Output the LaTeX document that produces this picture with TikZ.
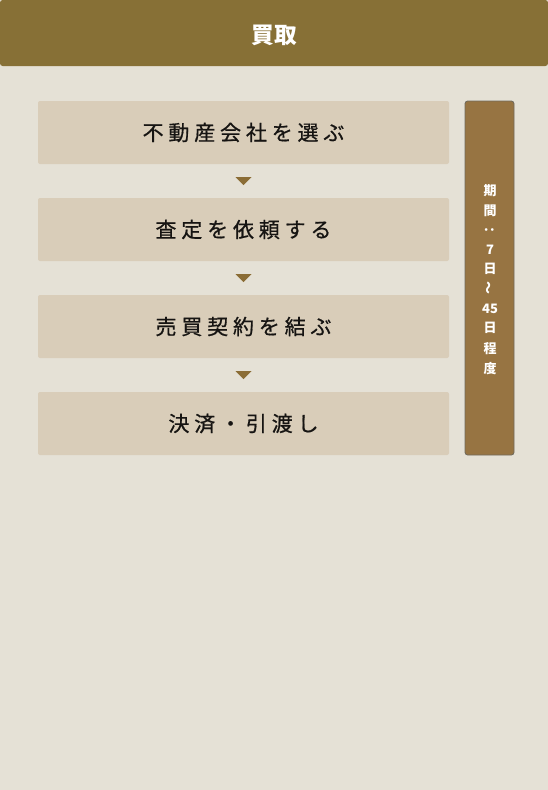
\documentclass[tikz,border=0pt]{standalone}
\usepackage{fontspec}
\newfontfamily\jpfont{Noto Sans CJK JP}
\newfontfamily\jpspaced[LetterSpace=23,FakeBold=0.7]{Noto Sans CJK JP}
\usetikzlibrary{calc}

\definecolor{bgpaper}{RGB}{229,225,214}
\definecolor{headbar}{RGB}{135,112,54}
\definecolor{stepfill}{RGB}{217,205,185}
\definecolor{tricol}{RGB}{139,109,54}
\definecolor{sidefill}{RGB}{151,116,66}
\definecolor{sideedge}{RGB}{112,106,94}
\definecolor{inktext}{RGB}{22,20,18}

\newcommand\steplabel[1]{\lower1.5pt\hbox{#1}}

\tikzset{
  stepbox/.style={fill=stepfill, rounded corners=1.5pt, inner sep=0pt,
    minimum width=308.25pt, minimum height=47.25pt, text=inktext,
    font=\jpspaced\fontsize{15.75pt}{18pt}\selectfont},
  stepmark/.style={fill=tricol},
  periodbar/.style={fill=sidefill, draw=sideedge, line width=0.6pt, rounded corners=2pt,
    inner sep=0pt, minimum width=36.75pt, minimum height=265.5pt},
  periodchar/.style={text=white, inner sep=0pt, font=\jpfont\bfseries\fontsize{9.75pt}{11pt}\selectfont}
}

\begin{document}
\begin{tikzpicture}[x=0.75pt,y=0.75pt,yscale=-1,xscale=1]
        \useasboundingbox (0,0) rectangle (548,790);
        %Shape: Rectangle [background]
        \fill[bgpaper] (0,0) rectangle (548,790);
        
        %Shape: Rectangle [header]
        \fill[headbar, rounded corners=2pt] (0,0) rectangle (548,66);
        % Text Node
        \node[text=white, font=\jpfont\bfseries\fontsize{17pt}{19pt}\selectfont] (title) at (274,35.5) {買取};
        
        %Flowchart: Process
        \node[stepbox] (s1) at (243.5,132.5) {\steplabel{不動産会社を選ぶ}};
        \node[stepbox] (s2) at (243.5,229.5) {\steplabel{査定を依頼する}};
        \node[stepbox] (s3) at (243.5,326.5) {\steplabel{売買契約を結ぶ}};
        \node[stepbox] (s4) at (243.5,423.5) {\steplabel{決済・引渡し}};
        
        %Shape: Triangle
        \foreach \a/\b in {s1/s2,s2/s3,s3/s4}
          \fill[stepmark] ($(\a.south)!0.5!(\b.north)$) ++(-8,-4) -- ++(16,0) -- ++(-8,8) -- cycle;
        
        %Shape: Rectangle [period]
        \node[periodbar] (period) at (489.5,278) {};
        % Text Node
        \foreach \ch/\yy/\rot [count=\i] in {期/191/0, 間/211/0, ：/230/90, 7/250/0, 日/269/0,
            〜/288/90, 45/309/0, 日/328/0, 程/349/0, 度/369/0}
          \node[periodchar, rotate=\rot] (p\i) at (490,\yy) {\ch};
        
\end{tikzpicture}
\end{document}
